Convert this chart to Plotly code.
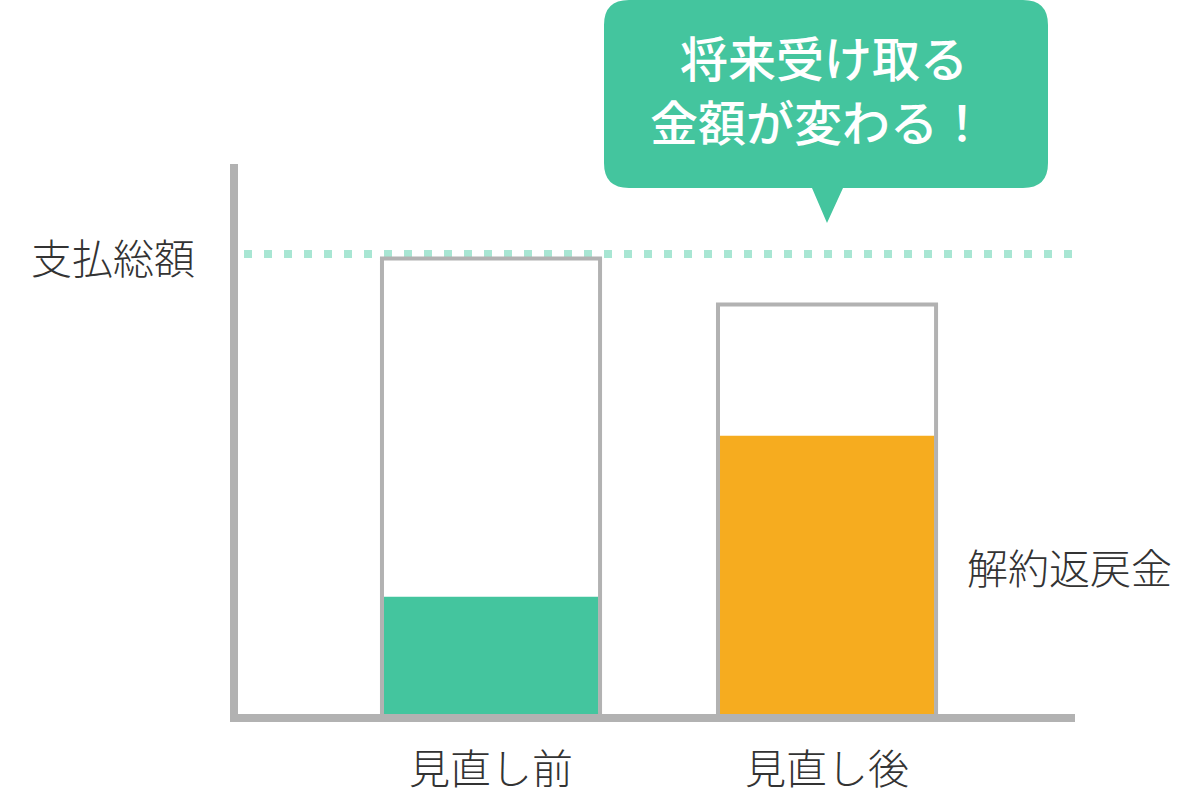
import plotly.graph_objects as go

# data (value scale: 支払総額 = 100)
categories = ["見直し前", "見直し後"]
total_paid = [99, 89]          # gray outlined boxes
refund = [25.5, 60.5]          # 解約返戻金
refund_colors = ["#44c59e", "#f6ac1f"]
payment_total_line = 100       # 支払総額 dotted line

gray = "#b2b2b2"
text_gray = "#333333"
jp_font = "Noto Sans CJK JP"

W, H = 1184, 798
ML, MR, MT, MB = 238, 109, 164, 84


def xp(px):
    return (px - ML) / (W - ML - MR)


def yp(py):
    return (H - MB - py) / (H - MT - MB)


fig = go.Figure()

fig.add_trace(go.Bar(
    x=categories, y=total_paid, width=0.649,
    marker=dict(color="white", line=dict(color=gray, width=4)),
    hoverinfo="skip",
))
fig.add_trace(go.Bar(
    x=categories, y=refund, width=0.637,
    marker=dict(color=refund_colors, line=dict(width=0)),
    hoverinfo="skip",
))

# dotted 支払総額 line
fig.add_shape(type="line", xref="paper", yref="y",
              x0=xp(244), x1=xp(1072), y0=payment_total_line, y1=payment_total_line,
              line=dict(color="#a8e6d3", width=8, dash="8px,12px"), layer="below")

# speech bubble
r = 25
pts = [
    ("M", 604 + r, 0), ("L", 1048 - r, 0), ("Q", 1048, 0, 1048, r),
    ("L", 1048, 188 - r), ("Q", 1048, 188, 1048 - r, 188),
    ("L", 843, 188), ("L", 827, 223), ("L", 812, 188),
    ("L", 604 + r, 188), ("Q", 604, 188, 604, 188 - r),
    ("L", 604, r), ("Q", 604, 0, 604 + r, 0),
]
path = ""
for p in pts:
    cmd, coords = p[0], p[1:]
    vals = []
    for i in range(0, len(coords), 2):
        vals.append(f"{xp(coords[i]):.5f},{yp(coords[i + 1]):.5f}")
    path += cmd + " " + " ".join(vals) + " "
path += "Z"
fig.add_shape(type="path", xref="paper", yref="paper", path=path,
              fillcolor="#44c59e", line=dict(width=0))

bubble_font = dict(family=jp_font, size=48, color="white", weight=500)
fig.add_annotation(xref="paper", yref="paper", x=xp(824), y=yp(56),
                   text="将来受け取る", showarrow=False, font=bubble_font,
                   xanchor="center", yanchor="middle")
fig.add_annotation(xref="paper", yref="paper", x=xp(818), y=yp(120),
                   text="金額が変わる！", showarrow=False, font=bubble_font,
                   xanchor="center", yanchor="middle")

label_font = dict(family=jp_font, size=41, color=text_gray, weight=300)
fig.add_annotation(xref="paper", yref="paper", x=xp(197), y=yp(256),
                   text="支払総額", showarrow=False, font=label_font,
                   xanchor="right", yanchor="middle")
fig.add_annotation(xref="paper", yref="paper", x=xp(965), y=yp(566),
                   text="解約返戻金", showarrow=False, font=label_font,
                   xanchor="left", yanchor="middle")

fig.update_layout(
    width=W, height=H,
    margin=dict(l=ML, r=MR, t=MT, b=MB, autoexpand=False),
    barmode="overlay",
    showlegend=False,
    plot_bgcolor="white",
    paper_bgcolor="white",
    xaxis=dict(range=[-0.753, 1.738], showgrid=False, zeroline=False,
               showline=True, linecolor=gray, linewidth=8, automargin=False,
               tickfont=dict(family=jp_font, size=41, color=text_gray, weight=300),
               ticks="", ticklabelstandoff=13, fixedrange=True),
    yaxis=dict(range=[0, 119.57], showgrid=False, zeroline=False,
               showline=True, linecolor=gray, linewidth=8, automargin=False,
               showticklabels=False, ticks="", fixedrange=True),
)

fig.write_html("out.html", config={"displayModeBar": False},
               post_script="document.body.style.margin='0';")
